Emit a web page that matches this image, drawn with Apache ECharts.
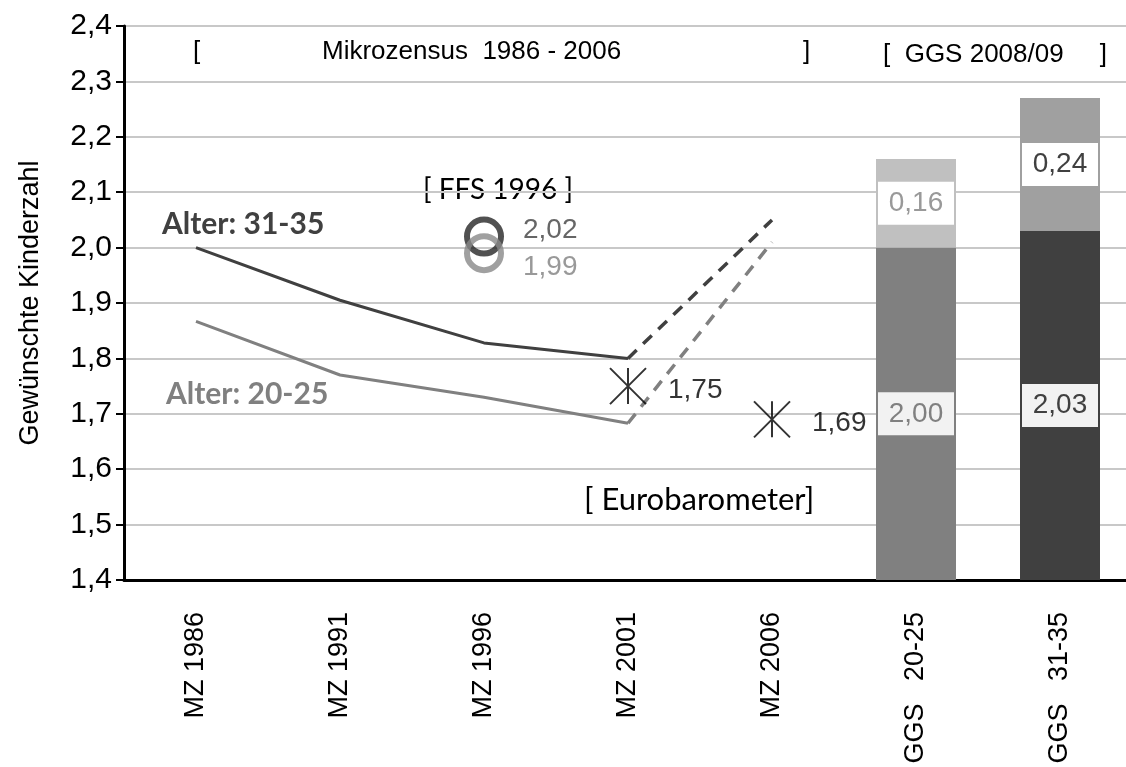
<!DOCTYPE html>
<html>
<head>
<meta charset="utf-8">
<script src="https://cdn.jsdelivr.net/npm/echarts@6/dist/echarts.min.js"></script>
<style>
  html, body { margin: 0; padding: 0; background: #fff; }
  #chart { width: 1126px; height: 767px; }
</style>
</head>
<body>
<div id="chart"></div>
<script>
const categories = ['MZ 1986', 'MZ 1991', 'MZ 1996', 'MZ 2001', 'MZ 2006', 'GGS   20-25', 'GGS   31-35'];
const yTicks = [1.4, 2.4, 0.1]; // min, max, step

// Mikrozensus, Alter 31-35 / 20-25 (MZ 1986 .. MZ 2001)
const mzAge3135 = [2.00, 1.905, 1.828, 1.80];
const mzAge2025 = [1.867, 1.77, 1.73, 1.683];
// dashed continuation MZ 2001 -> MZ 2006
const trendAge3135 = [1.80, 2.05];
const trendAge2025 = [1.683, 2.01];
// FFS 1996
const ffsAge3135 = 2.02;
const ffsAge2025 = 1.99;
// Eurobarometer
const euroCats = ['MZ 2001', 'MZ 2006'];
const euroValues = [1.75, 1.69];
// GGS 2008/09 : base + additional
const ggsBase = [2.00, 2.03];
const ggsExtra = [0.16, 0.24];

const fmt = v => v.toFixed(2).replace('.', ',');
const pad = (arr, before, total) => {
  const out = Array(before).fill(null).concat(arr);
  while (out.length < total) out.push(null);
  return out;
};

const chart = echarts.init(document.getElementById('chart'));
const yMin = yTicks[0];
const n = categories.length;
const ggsStart = 5;

const baseColors = ['#808080', '#404040'];
const extraColors = ['#c0c0c0', '#a0a0a0'];
const baseTextColors = ['#808080', '#404040'];
const extraTextColors = ['#999999', '#404040'];

const labelBox = (text, color, bg) => ({
  show: true, position: 'inside', formatter: text,
  color: color, backgroundColor: bg,
  fontFamily: 'Liberation Sans', fontSize: 28,
  width: 56, align: 'center', padding: [7, 10], lineHeight: 29
});

const ggsBaseItems = ggsBase.map((v, i) => ({
  value: v - yMin,
  itemStyle: { color: baseColors[i] },
  label: labelBox(fmt(v), baseTextColors[i], '#f2f2f2')
}));
const ggsExtraItems = ggsExtra.map((v, i) => ({
  value: v,
  itemStyle: { color: extraColors[i] },
  label: labelBox(fmt(v), extraTextColors[i], '#ffffff')
}));

const txt = (text, x, y, font, fill) => ({
  type: 'text', x: x, y: y,
  style: { text: text, font: font, fill: fill, verticalAlign: 'middle' }
});
const arial = '26px "Liberation Sans"';
const valueLabel = { fontFamily: 'Liberation Sans', fontSize: 28 };

chart.setOption({
  animation: false,
  grid: { left: 124, right: -6, top: 26, bottom: 187, outerBoundsMode: 'none' },
  xAxis: {
    type: 'category', data: categories,
    axisLine: { lineStyle: { color: '#000', width: 3 } },
    axisTick: { length: 9, lineStyle: { color: '#000', width: 2 } },
    axisLabel: { interval: 0, rotate: 90, margin: 32, color: '#000', fontFamily: 'Liberation Sans', fontSize: 27 }
  },
  yAxis: {
    type: 'value', min: yTicks[0], max: yTicks[1], interval: yTicks[2],
    name: 'Gewünschte Kinderzahl', nameLocation: 'middle', nameGap: 80,
    nameTextStyle: { color: '#000', fontFamily: 'Liberation Sans', fontSize: 27 },
    axisLine: { show: true, lineStyle: { color: '#000', width: 3 } },
    axisTick: { show: true, length: 8, lineStyle: { color: '#000', width: 2 } },
    axisLabel: { margin: 12, color: '#000', fontFamily: 'Liberation Sans', fontSize: 30,
      formatter: v => v.toFixed(1).replace('.', ',') },
    splitLine: { lineStyle: { color: '#c8c8c8', width: 2 } }
  },
  series: [
    { type: 'line', data: pad(mzAge3135, 0, n), symbol: 'none', lineStyle: { color: '#404040', width: 3 }, z: 3 },
    { type: 'line', data: pad(mzAge2025, 0, n), symbol: 'none', lineStyle: { color: '#808080', width: 3 }, z: 3 },
    { type: 'line', data: pad(trendAge3135, 3, n), symbol: 'none', lineStyle: { color: '#404040', width: 3.5, type: [12, 9] }, z: 3 },
    { type: 'line', data: pad(trendAge2025, 3, n), symbol: 'none', lineStyle: { color: '#808080', width: 3.5, type: [12, 9] }, z: 3 },
    { type: 'scatter', data: [['MZ 1996', ffsAge3135]], symbol: 'circle', symbolSize: 34,
      itemStyle: { color: 'rgba(0,0,0,0)', borderColor: '#262626', borderWidth: 6 },
      label: Object.assign({ show: true, position: 'right', distance: 19, offset: [0, -6], color: '#404040',
        formatter: p => fmt(p.value[1]) }, valueLabel), z: 4 },
    { type: 'scatter', data: [['MZ 1996', ffsAge2025]], symbol: 'circle', symbolSize: 34,
      itemStyle: { color: 'rgba(0,0,0,0)', borderColor: '#888888', borderWidth: 6 },
      label: Object.assign({ show: true, position: 'right', distance: 19, offset: [0, 14], color: '#808080',
        formatter: p => fmt(p.value[1]) }, valueLabel), z: 4 },
    { type: 'scatter', data: euroCats.map((c, i) => [c, euroValues[i]]),
      symbol: 'path://M0,0L36,36M36,0L0,36M18,0L18,36', symbolSize: 36,
      itemStyle: { color: 'rgba(0,0,0,0)', borderColor: '#000', borderWidth: 2 },
      label: Object.assign({ show: true, position: 'right', distance: 21, offset: [0, 4], color: '#000',
        formatter: p => fmt(p.value[1]) }, valueLabel), z: 4 },
    { type: 'bar', stack: 'ggs', barWidth: 80, silent: true,
      data: pad([yMin, yMin], ggsStart, n), itemStyle: { color: 'rgba(0,0,0,0)' } },
    { type: 'bar', stack: 'ggs', barWidth: 80, data: pad(ggsBaseItems, ggsStart, n) },
    { type: 'bar', stack: 'ggs', barWidth: 80, data: pad(ggsExtraItems, ggsStart, n) }
  ],
  graphic: [
    txt('[', 193, 52, arial, '#000'),
    txt('Mikrozensus  1986 - 2006', 322, 52, arial, '#000'),
    txt(']', 803, 52, arial, '#000'),
    txt('[  GGS 2008/09     ]', 883, 55, arial, '#000'),
    txt('Alter: 31-35', 162, 224, 'bold 30px Lato', '#404040'),
    txt('Alter: 20-25', 166, 394, 'bold 30px Lato', '#808080'),
    txt('[ FFS 1996 ]', 423, 190, '28px Lato', '#000'),
    txt('[ Eurobarometer]', 584, 500, '31px Lato', '#000')
  ]
});
</script>
</body>
</html>
